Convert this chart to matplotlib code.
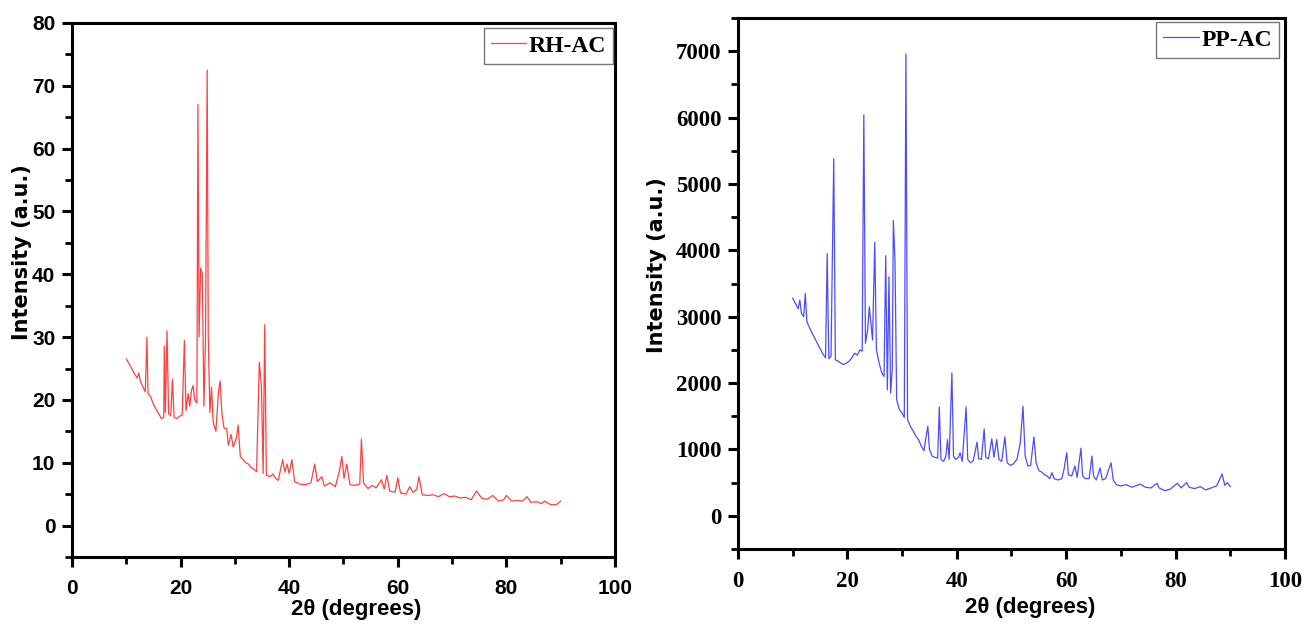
import matplotlib.pyplot as plt
from matplotlib.ticker import MultipleLocator

# RH-AC pattern
rh_x = [10.0, 10.5, 11.0, 11.5, 12.0, 12.3, 12.6, 13.0, 13.5, 13.8, 14.0, 14.5, 15.0, 15.5, 16.0, 16.5,
        16.9, 17.0, 17.2, 17.5, 17.8, 18.2, 18.5, 18.8, 19.3, 19.8, 20.3, 20.7, 21.0, 21.4, 21.7, 22.0,
        22.3, 22.6, 23.0, 23.2, 23.4, 23.7, 24.0, 24.3, 24.6, 24.9, 25.1, 25.4, 25.7, 26.0, 26.5, 27.0,
        27.3, 27.6, 28.0, 28.5, 28.8, 29.3, 29.7, 30.3, 30.6, 31.0, 31.5, 32.0, 32.5, 33.0, 33.5, 34.0,
        34.5, 34.9, 35.2, 35.5, 35.8, 36.5, 37.0, 37.5, 38.0, 38.8, 39.2, 39.6, 40.0, 40.5, 41.0, 42.0,
        43.0, 44.0, 44.7, 45.2, 46.0, 46.5, 47.5, 48.5, 49.2, 49.7, 50.1, 50.6, 51.2, 52.0, 53.0, 53.3,
        53.7, 54.5, 55.3, 56.0, 57.0, 57.5, 58.0, 58.5, 59.5, 60.0, 60.5, 61.5, 62.2, 62.8, 63.5, 63.9,
        64.5, 65.5, 66.5, 67.5, 68.5, 69.5, 70.5, 71.5, 72.5, 73.5, 74.5, 75.5, 76.5, 77.5, 78.5, 79.5,
        80.0, 81.0, 82.0, 83.0, 83.8, 84.5, 85.5, 86.5, 87.0, 88.0, 89.0, 89.5, 90.0]
rh_y = [26.5, 25.8, 25.0, 24.2, 23.5, 24.3, 23.0, 22.2, 21.3, 30.0, 21.0, 20.5, 19.3, 18.5, 17.8, 17.0,
        17.2, 28.5, 18.0, 31.0, 17.8, 17.5, 23.3, 17.3, 17.0, 17.4, 17.6, 29.5, 18.3, 21.0, 19.0, 21.5,
        22.3, 20.0, 19.5, 67.0, 30.0, 41.0, 40.0, 19.0, 30.0, 72.5, 30.0, 18.0, 22.0, 16.5, 15.0, 21.5,
        23.0, 18.0, 15.5, 15.5, 12.8, 14.5, 12.5, 14.0, 16.0, 11.0, 10.5, 10.0, 9.8, 9.2, 9.0, 8.6,
        26.0, 22.0, 8.3, 32.0, 8.0, 7.8, 8.2, 7.5, 7.2, 10.5, 8.5, 9.8, 8.3, 10.5, 7.0, 6.6,
        6.5, 6.8, 9.8, 7.0, 7.8, 6.3, 6.8, 6.2, 8.5, 11.0, 7.5, 9.8, 6.5, 6.4, 6.6, 13.8,
        6.8, 5.9, 6.4, 6.0, 7.3, 5.8, 8.0, 5.5, 5.3, 7.6, 5.2, 5.0, 6.2, 5.3, 5.8, 7.8,
        4.9, 4.8, 4.9, 4.6, 5.1, 4.6, 4.7, 4.4, 4.5, 4.1, 5.5, 4.3, 4.2, 4.8, 3.9, 4.1,
        4.8, 3.9, 4.0, 3.9, 4.6, 3.7, 3.8, 3.5, 3.9, 3.4, 3.3, 3.5, 3.9]

# PP-AC pattern
pp_x = [10.0, 10.5, 11.0, 11.3, 11.6, 12.0, 12.3, 12.6, 13.0, 13.5, 14.0, 14.5, 15.0, 15.5, 16.0, 16.3,
        16.6, 17.0, 17.5, 17.8, 18.3, 18.8, 19.3, 19.8, 20.3, 20.8, 21.3, 21.8, 22.3, 22.7, 23.0, 23.3,
        23.7, 24.0, 24.3, 24.6, 25.0, 25.3, 25.8, 26.3, 26.7, 27.0, 27.3, 27.6, 27.9, 28.2, 28.4, 28.7,
        29.0, 29.5, 30.0, 30.4, 30.7, 31.0, 31.5, 32.0, 32.5, 33.0, 33.5, 34.0, 34.3, 34.7, 35.0, 35.5,
        36.0, 36.5, 36.8, 37.1, 37.6, 38.0, 38.3, 38.6, 39.1, 39.4, 39.8, 40.3, 40.6, 41.0, 41.7, 42.0,
        42.5, 43.0, 43.7, 44.0, 44.5, 45.0, 45.3, 45.8, 46.4, 46.8, 47.3, 47.7, 48.2, 48.8, 49.2, 49.8,
        50.3, 51.0, 51.6, 52.1, 52.5, 53.0, 53.5, 54.1, 54.5, 55.0, 55.5, 56.0, 56.5, 57.0, 57.4, 57.8,
        58.5, 59.2, 59.6, 60.1, 60.4, 61.0, 61.6, 62.0, 62.7, 63.0, 63.5, 64.2, 64.7, 65.0, 65.5, 66.2,
        66.6, 67.2, 68.2, 68.6, 69.2, 70.0, 71.0, 72.0, 73.0, 73.5, 74.5, 75.5, 76.6, 77.0, 78.0, 79.0,
        80.3, 81.0, 82.0, 82.5, 83.5, 84.5, 85.5, 86.5, 87.5, 88.5, 89.0, 89.5, 90.0]
pp_y = [3280, 3200, 3120, 3250, 3050, 3000, 3350, 2920, 2850, 2760, 2680, 2600, 2520, 2440, 2380, 3950,
        2370, 2400, 5380, 2350, 2330, 2300, 2280, 2300, 2330, 2380, 2450, 2420, 2500, 2480, 6040, 2600,
        2800, 3150, 2900, 2650, 4120, 2500, 2300, 2150, 2100, 3920, 1900, 3600, 1850, 2200, 4450, 3850,
        1750, 1600, 1550, 1480, 6960, 1450, 1350, 1280, 1200, 1150, 1050, 980, 1150, 1350, 1000, 900,
        880, 870, 1640, 850, 820, 900, 1150, 850, 2150, 900, 850, 880, 950, 820, 1640, 850,
        800, 830, 1110, 860, 850, 1310, 880, 860, 1160, 880, 1150, 850, 820, 1190, 800, 760,
        780, 850, 1100, 1650, 900, 750, 760, 1190, 800, 680, 660, 620, 600, 560, 650, 560,
        540, 560, 700, 950, 620, 600, 750, 580, 1020, 600, 560, 560, 900, 600, 540, 720,
        540, 560, 800, 540, 470, 450, 470, 430, 460, 480, 430, 420, 490, 420, 380, 400,
        490, 420, 500, 430, 410, 440, 390, 420, 450, 630, 460, 500, 440]

fig = plt.figure(figsize=(13.06, 6.26), dpi=100)
ax1 = fig.add_axes([0.0551, 0.1102, 0.4158, 0.8531])
ax2 = fig.add_axes([0.5651, 0.1230, 0.4188, 0.8482])

ax1.plot(rh_x, rh_y, color='#ff0000', lw=0.9, alpha=0.75, label='RH-AC')
ax2.plot(pp_x, pp_y, color='#0000ff', lw=0.9, alpha=0.7, label='PP-AC')

ax1.set_xlim(0, 100)
ax1.set_ylim(-5, 80)
ax1.yaxis.set_major_locator(MultipleLocator(10))
ax1.yaxis.set_minor_locator(MultipleLocator(5))
ax2.set_xlim(0, 100)
ax2.set_ylim(-500, 7500)
ax2.yaxis.set_major_locator(MultipleLocator(1000))
ax2.yaxis.set_minor_locator(MultipleLocator(500))

tick_fonts = [('Liberation Sans', 15), ('Liberation Serif', 16.5)]
for ax, (fam, fs) in zip([ax1, ax2], tick_fonts):
    ax.xaxis.set_major_locator(MultipleLocator(20))
    ax.xaxis.set_minor_locator(MultipleLocator(10))
    for s in ax.spines.values():
        s.set_linewidth(2.2)
    ax.tick_params(which='major', direction='out', length=7, width=2.2)
    ax.tick_params(which='minor', direction='out', length=5, width=2.0)
    ax.tick_params(axis='x', which='major', pad=9)
    ax.tick_params(axis='y', which='major', pad=5)
    for lab in ax.get_xticklabels() + ax.get_yticklabels():
        lab.set_fontfamily(fam)
        lab.set_fontweight('bold')
        lab.set_fontsize(fs)
    ax.set_xlabel('2θ (degrees)', fontfamily='Liberation Sans', fontweight='bold', fontsize=16)
    ax.set_ylabel('Intensity (a.u.)', fontfamily='DejaVu Sans', fontweight='bold', fontsize=15)

ax1.yaxis.set_label_coords(-0.074, 0.57)
ax1.xaxis.set_label_coords(0.523, -0.078)
ax2.yaxis.set_label_coords(-0.13, 0.535)
ax2.xaxis.set_label_coords(0.534, -0.09)

for ax, anchor in [(ax1, (1 - 2 / 543, 1 - 5 / 534)), (ax2, (1 - 6 / 547, 1 - 4 / 531))]:
    leg = ax.legend(loc='upper right', bbox_to_anchor=anchor, borderaxespad=0,
                    prop={'family': 'Liberation Serif', 'weight': 'bold', 'size': 17},
                    handlelength=1.5, handletextpad=0.1, borderpad=0.3,
                    fancybox=False, framealpha=1, edgecolor='#777777')
    leg.get_frame().set_linewidth(1.0)

fig.savefig('out.png', dpi=100)
